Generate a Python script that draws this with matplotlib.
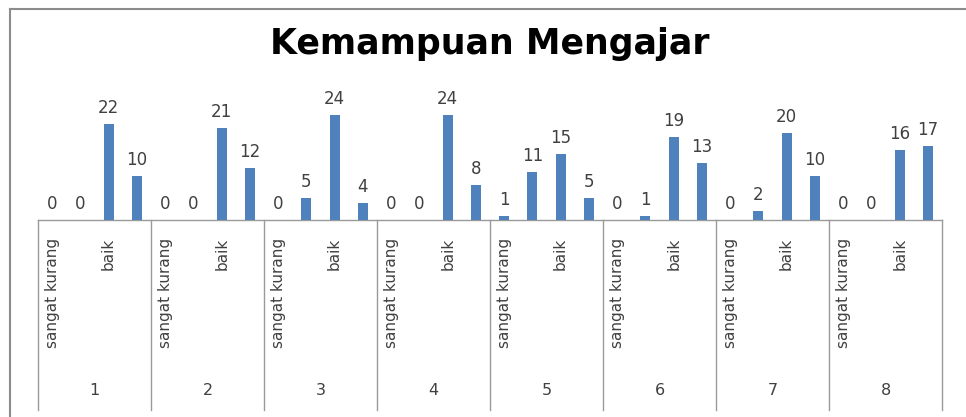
import numpy as np
import matplotlib
matplotlib.use("Agg")
import matplotlib.pyplot as plt
from matplotlib.lines import Line2D

# rating counts per item (sangat kurang, kurang, baik, sangat baik)
items = ['1', '2', '3', '4', '5', '6', '7', '8']
categories = ['sangat kurang', 'kurang', 'baik', 'sangat baik']
counts = [
    [0, 0, 22, 10],
    [0, 0, 21, 12],
    [0, 5, 24, 4],
    [0, 0, 24, 8],
    [1, 11, 15, 5],
    [0, 1, 19, 13],
    [0, 2, 20, 10],
    [0, 0, 16, 17],
]
title = 'Kemampuan Mengajar'

bar_color = '#4F81BD'
text_color = '#404040'
line_color = '#9A9A9A'

fig = plt.figure(figsize=(9.66, 4.17), dpi=100)
ax = fig.add_axes([38 / 966, 197 / 417, 904 / 966, 160 / 417])

ncat = len(categories)
vals = np.array(counts).ravel()
xpos = np.arange(len(vals))
ax.bar(xpos, vals, width=0.36, color=bar_color, zorder=3)

for x, v in zip(xpos, vals):
    ax.annotate(str(v), (x, v), xytext=(0, 5), textcoords='offset points',
                ha='center', va='bottom', fontsize=12, color=text_color)

ax.set_xlim(-0.5, len(vals) - 0.5)
ax.set_ylim(0, 36.6)
ax.set_yticks([])

# only every other category label fits, like the spreadsheet axis
shown = [i for i in range(len(vals)) if i % ncat in (0, 2)]
ax.set_xticks(shown)
ax.set_xticklabels([categories[i % ncat] for i in shown], rotation=90,
                   fontsize=11, color=text_color)
ax.tick_params(axis='x', length=0, pad=13)

for s in ['top', 'left', 'right']:
    ax.spines[s].set_visible(False)
ax.spines['bottom'].set_color(line_color)
ax.spines['bottom'].set_linewidth(1.0)

# group separators running down through the label area
trans = ax.get_xaxis_transform()
for k in range(len(items) + 1):
    ax.add_line(Line2D([k * ncat - 0.5] * 2, [0, -1.19], transform=trans,
                       color=line_color, lw=1.0, clip_on=False))

for k, name in enumerate(items):
    ax.text(k * ncat + 1.5, -1.065, name, transform=trans, ha='center',
            va='center', fontsize=11.5, color=text_color)

fig.text(490 / 966, 1 - 44 / 417, title, ha='center', va='center',
         fontsize=25, fontweight='bold', color='black')

# chart frame
fig.add_artist(Line2D([9.5 / 966, 9.5 / 966], [0, 1 - 8.5 / 417],
                      transform=fig.transFigure, color='#8C8C8C', lw=1.5))
fig.add_artist(Line2D([9.5 / 966, 1], [1 - 8.5 / 417, 1 - 8.5 / 417],
                      transform=fig.transFigure, color='#8C8C8C', lw=1.5))

fig.savefig('out.png', dpi=100)
